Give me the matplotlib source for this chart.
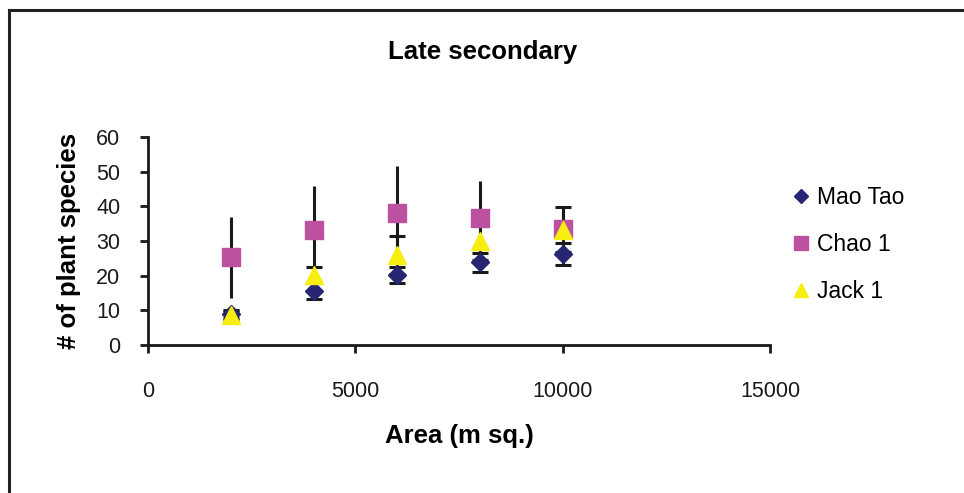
import matplotlib
matplotlib.use("Agg")
import matplotlib.pyplot as plt
from matplotlib.lines import Line2D

plt.rcParams["font.family"] = ["Liberation Sans", "DejaVu Sans"]

# data
area = [2000, 4000, 6000, 8000, 10000]
mao_tao = [8.8, 15.6, 20.2, 23.8, 26.2]
mao_tao_err = [1.0, 2.2, 2.4, 2.8, 3.1]
chao_1 = [25.3, 33.2, 38.0, 36.5, 33.6]
chao_1_err = [11.7, 12.7, 13.6, 10.8, 5.0]
jack_1 = [8.6, 20.2, 26.0, 30.0, 33.2]
jack_1_err = [1.5, 2.4, 5.4, 5.6, 6.5]

c_mao = "#262673"
c_chao = "#BC529F"
c_jack = "#F7EE0F"

fig = plt.figure(figsize=(9.64, 4.93), dpi=100)
ax = fig.add_axes([148 / 964, 1 - 345 / 493, (770 - 148) / 964, (345 - 137) / 493])

# error bars first, markers on top
ax.errorbar(area, chao_1, yerr=chao_1_err, fmt="none", ecolor="#1a1a1a",
            elinewidth=2.2, capsize=0, zorder=2)
ax.errorbar(area, jack_1, yerr=jack_1_err, fmt="none", ecolor="#1a1a1a",
            elinewidth=2.2, capsize=5.5, capthick=2.2, zorder=2)
ax.errorbar(area, mao_tao, yerr=mao_tao_err, fmt="none", ecolor="#1a1a1a",
            elinewidth=2.2, capsize=5.5, capthick=2.2, zorder=2)

h1, = ax.plot(area, mao_tao, ls="none", marker="D", ms=9.2, color=c_mao,
              mec=c_mao, label="Mao Tao", zorder=3)
h2, = ax.plot(area, chao_1, ls="none", marker="s", ms=13, color=c_chao,
              mec=c_chao, label="Chao 1", zorder=3)
h3, = ax.plot(area, jack_1, ls="none", marker="^", ms=13, color=c_jack,
              mec=c_jack, label="Jack 1", zorder=4)

ax.set_xlim(0, 15000)
ax.set_ylim(0, 60)
ax.set_xticks([0, 5000, 10000, 15000])
ax.set_yticks(range(0, 61, 10))
for s in ["top", "right"]:
    ax.spines[s].set_visible(False)
for s in ["left", "bottom"]:
    ax.spines[s].set_linewidth(2)
    ax.spines[s].set_color("#1a1a1a")
ax.tick_params(axis="x", direction="out", length=6, width=2, pad=20,
               labelsize=15.5, colors="#1a1a1a")
ax.tick_params(axis="y", direction="out", length=6, width=2, pad=14,
               labelsize=15.5, colors="#1a1a1a")

ax.set_xlabel("Area (m sq.)", fontsize=18.5, fontweight="bold", labelpad=16)
ax.set_ylabel("# of plant species", fontsize=18.5, fontweight="bold", labelpad=11)
fig.text(483 / 964, 1 - 52 / 493, "Late secondary", fontsize=18.5,
         fontweight="bold", ha="center", va="center")

fig.legend(handles=[h1, h2, h3], loc="upper left",
           bbox_to_anchor=(771 / 964, 1 - 165 / 493), frameon=False,
           fontsize=16.5, labelspacing=1.05, handlelength=0.8,
           handletextpad=0.3, markerscale=0.8)

# outer frame (top and left edges visible)
fig.add_artist(Line2D([9 / 964, 9 / 964], [0, 1 - 10 / 493],
                      transform=fig.transFigure, color="#222222", lw=2.2))
fig.add_artist(Line2D([9 / 964, 1], [1 - 10 / 493, 1 - 10 / 493],
                      transform=fig.transFigure, color="#222222", lw=2.2))

fig.savefig("out.png", dpi=100, facecolor="white")
